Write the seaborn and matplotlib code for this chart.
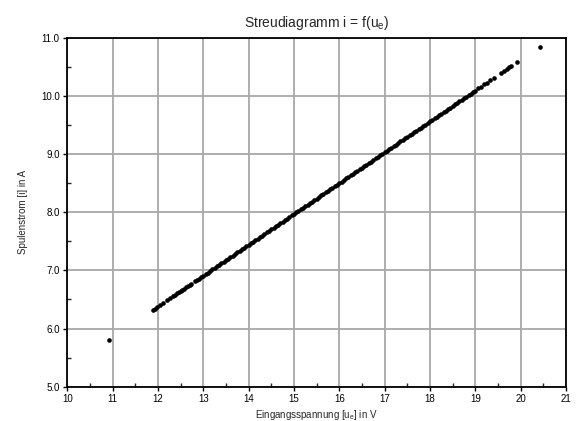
import matplotlib
matplotlib.use("Agg")
import matplotlib.pyplot as plt
from matplotlib.ticker import MultipleLocator, FormatStrFormatter
import seaborn as sns
import pandas as pd

# Eingangsspannung u_e [V]
u_sparse_low = [10.93, 11.88, 11.93, 11.98, 12.05, 12.12, 12.20, 12.27, 12.33]
i_sparse_low = [5.81, 6.316, 6.343, 6.369, 6.407, 6.444, 6.486, 6.523, 6.555]

u_low = [12.38, 12.42, 12.46, 12.50, 12.54, 12.58, 12.62, 12.66, 12.70, 12.74, 12.82, 12.86]
i_low = [6.581, 6.603, 6.624, 6.645, 6.666, 6.687, 6.709, 6.730, 6.751, 6.772, 6.815, 6.836]

u_dense = [12.90, 12.95, 13.00, 13.05, 13.10, 13.15, 13.20, 13.25, 13.30, 13.35,
           13.40, 13.45, 13.50, 13.55, 13.60, 13.65, 13.70, 13.75, 13.80, 13.85,
           13.90, 13.95, 14.00, 14.05, 14.10, 14.15, 14.20, 14.25, 14.30, 14.35,
           14.40, 14.45, 14.50, 14.55, 14.60, 14.65, 14.70, 14.75, 14.80, 14.85,
           14.90, 14.95, 15.00, 15.05, 15.10, 15.15, 15.20, 15.25, 15.30, 15.35,
           15.40, 15.45, 15.50, 15.55, 15.60, 15.65, 15.70, 15.75, 15.80, 15.85,
           15.90, 15.95, 16.00, 16.05, 16.10, 16.15, 16.20, 16.25, 16.30, 16.35,
           16.40, 16.45, 16.50, 16.55, 16.60, 16.65, 16.70, 16.75, 16.80, 16.85,
           16.90, 16.95, 17.00, 17.05, 17.10, 17.15, 17.20, 17.25, 17.30, 17.35,
           17.40, 17.45, 17.50, 17.55, 17.60, 17.65, 17.70, 17.75, 17.80, 17.85,
           17.90, 17.95, 18.00, 18.05, 18.10, 18.15, 18.20, 18.25, 18.30, 18.35,
           18.40, 18.45, 18.50, 18.55, 18.60, 18.65, 18.70, 18.75, 18.80, 18.85,
           18.90, 18.95, 19.00]
i_dense = [6.857, 6.884, 6.910, 6.937, 6.963, 6.990, 7.016, 7.043, 7.069, 7.096,
           7.122, 7.149, 7.175, 7.202, 7.228, 7.255, 7.281, 7.308, 7.334, 7.361,
           7.387, 7.414, 7.440, 7.467, 7.493, 7.520, 7.546, 7.573, 7.599, 7.626,
           7.652, 7.679, 7.705, 7.732, 7.758, 7.785, 7.811, 7.838, 7.864, 7.891,
           7.917, 7.944, 7.970, 7.997, 8.023, 8.050, 8.076, 8.103, 8.129, 8.156,
           8.182, 8.209, 8.235, 8.262, 8.288, 8.315, 8.341, 8.368, 8.394, 8.421,
           8.447, 8.474, 8.500, 8.527, 8.553, 8.580, 8.606, 8.633, 8.659, 8.686,
           8.712, 8.739, 8.765, 8.792, 8.818, 8.845, 8.871, 8.898, 8.924, 8.951,
           8.977, 9.004, 9.030, 9.057, 9.083, 9.110, 9.136, 9.163, 9.189, 9.216,
           9.242, 9.269, 9.295, 9.322, 9.348, 9.375, 9.401, 9.428, 9.454, 9.481,
           9.507, 9.534, 9.560, 9.587, 9.613, 9.640, 9.666, 9.693, 9.719, 9.746,
           9.772, 9.799, 9.825, 9.852, 9.878, 9.905, 9.931, 9.958, 9.984, 10.011,
           10.037, 10.064, 10.090]

u_sparse_high = [19.07, 19.13, 19.20, 19.26, 19.33, 19.41, 19.57, 19.63, 19.70, 19.75, 19.79, 19.92, 20.43]
i_sparse_high = [10.127, 10.159, 10.196, 10.228, 10.265, 10.307, 10.392, 10.424, 10.461, 10.488, 10.509, 10.578, 10.84]

x_ticks = [10, 11, 12, 13, 14, 15, 16, 17, 18, 19, 20, 21]
y_ticks = [5.0, 6.0, 7.0, 8.0, 9.0, 10.0, 11.0]

df = pd.DataFrame({
    "u": u_sparse_low + u_low + u_dense + u_sparse_high,
    "i": i_sparse_low + i_low + i_dense + i_sparse_high,
})

sns.set_theme(style="ticks")
plt.rcParams["font.family"] = ["Liberation Sans", "DejaVu Sans"]
plt.rcParams["mathtext.default"] = "regular"

fig = plt.figure(figsize=(5.76, 4.21), dpi=100)
ax = fig.add_axes([0.1168, 0.0815, 0.8658, 0.829])

sns.scatterplot(data=df, x="u", y="i", ax=ax, color="black", s=11,
                linewidth=0, zorder=3, legend=False)

ax.set_xlim(10, 21)
ax.set_ylim(5.0, 11.0)
ax.set_xticks(x_ticks)
ax.set_yticks(y_ticks)
ax.yaxis.set_major_formatter(FormatStrFormatter("%.1f"))
ax.xaxis.set_minor_locator(MultipleLocator(0.5))
ax.yaxis.set_minor_locator(MultipleLocator(0.5))

ax.grid(True, which="major", color="#a8a8a8", linewidth=1.3)
ax.set_axisbelow(True)
for sp in ax.spines.values():
    sp.set_visible(True)
    sp.set_color("black")
    sp.set_linewidth(1.3)

ax.tick_params(which="major", direction="out", length=3, width=1.0,
               labelsize=7, pad=2.5, colors="black", top=False, right=False)
ax.tick_params(which="minor", direction="in", length=3, width=1.0,
               top=False, right=False)

ax.set_xlabel("Eingangsspannung [u$_e$] in V", fontsize=7, labelpad=2.5)
ax.set_ylabel("Spulenstrom [i] in A", fontsize=7, labelpad=9)
ax.set_title("Streudiagramm i = f(u$_e$)", fontsize=10, pad=8)

fig.savefig("out.png", dpi=100)
